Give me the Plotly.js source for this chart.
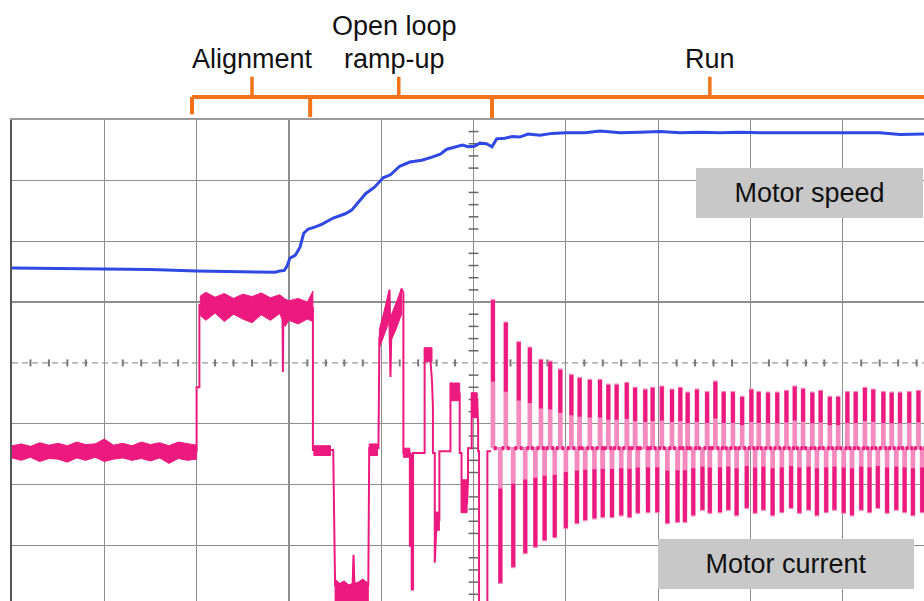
<!DOCTYPE html>
<html><head><meta charset="utf-8">
<script src="https://cdn.plot.ly/plotly-3.0.1.min.js"></script>
<style>html,body{margin:0;padding:0;background:#fff;}#chart{width:924px;height:601px;}</style>
</head><body><div id="chart"></div>
<script>
// Units: oscilloscope divisions (time on x, signal level on y)
// ---- Motor speed ----
const speedT = [0,0.52,1.01,1.50,2.00,2.47,2.85,2.90,2.95,2.98,3.01,3.07,3.12,3.16,3.21,3.28,3.36,3.48,3.61,3.68,3.75,3.83,3.93,4.02,4.10,4.20,4.31,4.44,4.55,4.64,4.71,4.80,4.88,4.94,5.01,5.07,5.14,5.20,5.25,5.34,5.42,5.50,5.59,5.72,5.85,6.00,6.21,6.37,6.59,6.80,7.02,7.24,7.45,7.67,7.89,8.10,8.32,8.54,8.75,9.02,9.19,9.40,9.62,9.88];
const speedY = [1.56,1.55,1.54,1.535,1.51,1.50,1.49,1.51,1.52,1.59,1.72,1.77,1.90,2.13,2.20,2.23,2.28,2.38,2.45,2.51,2.63,2.78,2.89,3.04,3.09,3.23,3.30,3.33,3.38,3.43,3.51,3.55,3.58,3.55,3.56,3.61,3.60,3.55,3.68,3.69,3.72,3.71,3.76,3.74,3.77,3.78,3.78,3.81,3.78,3.79,3.80,3.78,3.79,3.78,3.79,3.78,3.78,3.77,3.78,3.78,3.77,3.78,3.75,3.76];

// ---- Motor current: alignment / ramp-up trace ----
const currT = [0,2.00,2.00,2.03,2.03,2.93,2.935,2.94,3.26,3.26,3.48,3.49,3.50,3.69,3.70,3.71,3.86,3.87,3.97,3.98,4.09,4.09,4.10,4.11,4.22,4.24,4.24,4.31,4.31,4.315,4.33,4.33,4.345,4.345,4.47,4.47,4.50,4.53,4.55,4.56,4.56,4.58,4.58,4.60,4.62,4.63,4.63,4.75,4.75,4.80,4.85,4.85,4.87,4.87,4.93,4.94,4.94,4.98,4.98,5.04,5.05,5.05,5.06,5.06,5.15,5.15,5.19];
const currY = [-1.45,-1.45,-0.40,-0.40,0.95,0.95,-0.15,0.90,0.90,-1.43,-1.43,-3.00,-3.65,-3.65,-3.15,-3.65,-3.65,-1.40,-1.40,0.40,1.20,0.60,-0.23,0.55,1.22,1.15,-1.48,-1.48,-3.02,-1.50,-1.50,-3.72,-3.72,-1.48,-1.48,0.25,0.20,0.12,-0.30,-0.72,-1.48,-1.48,-3.28,-2.60,-2.45,-2.60,-1.45,-1.45,-0.33,-0.40,-0.50,-1.48,-1.48,-2.46,-2.30,-1.92,-1.40,-1.40,-0.49,-0.60,-1.05,-1.45,-1.45,-3.95,-3.95,-1.45,-1.45];

// dense (PWM-filled) bands: time, upper edge, lower edge
const band1T = [0,0.1,0.2,0.3,0.4,0.5,0.6,0.7,0.8,0.9,1.0,1.1,1.2,1.3,1.4,1.5,1.6,1.7,1.8,1.9,2.0];
const band1Hi = [-1.36,-1.33,-1.37,-1.31,-1.35,-1.32,-1.36,-1.30,-1.34,-1.33,-1.25,-1.35,-1.32,-1.36,-1.30,-1.34,-1.31,-1.36,-1.30,-1.33,-1.35];
const band1Lo = [-1.56,-1.60,-1.55,-1.62,-1.57,-1.58,-1.63,-1.56,-1.60,-1.55,-1.62,-1.58,-1.56,-1.60,-1.57,-1.61,-1.56,-1.65,-1.57,-1.60,-1.58];
const band2T = [2.04,2.1,2.2,2.3,2.4,2.5,2.6,2.7,2.8,2.9,2.96,3.0,3.1,3.2,3.26];
const band2Hi = [1.10,1.16,1.08,1.14,1.06,1.13,1.09,1.15,1.07,1.12,1.05,1.02,1.06,1.00,1.18];
const band2Lo = [0.78,0.70,0.82,0.68,0.80,0.72,0.66,0.79,0.70,0.81,0.60,0.70,0.64,0.72,0.68];
const band3T = [3.50,3.55,3.60,3.65,3.69,3.70,3.71,3.75,3.80,3.86];
const band3Hi = [-3.55,-3.62,-3.58,-3.65,-3.62,-3.20,-3.62,-3.60,-3.55,-3.62];
const band3Lo = [-4.0,-4.0,-4.0,-4.0,-4.0,-4.0,-4.0,-4.0,-4.0,-4.0];
const band4T = [3.98,4.03,4.09,4.10,4.16,4.22];
const band4Hi = [0.55,0.85,1.20,0.75,1.00,1.22];
const band4Lo = [0.25,0.45,0.70,0.35,0.55,0.80];
// dense blocks: start, end, low, high
const blockT0 = [3.27,3.87,4.24,4.47,4.58,4.75,4.87,4.98];
const blockT1 = [3.45,3.96,4.31,4.55,4.63,4.85,4.93,5.04];
const blockLo = [-1.52,-1.52,-1.55,0.02,-2.75,-0.62,-2.46,-0.90];
const blockHi = [-1.36,-1.33,-1.40,0.25,-2.45,-0.33,-1.92,-0.49];

// ---- Motor current: run phase (commutation pulses) ----
const runTopT = [5.21,5.35,5.49,5.61,5.73,5.83,5.94,6.06,6.15,6.26,6.37,6.46,6.55,6.66,6.75,6.86,6.94,7.04,7.15,7.24,7.32,7.42,7.53,7.62,7.71,7.81,7.91,8.01,8.09,8.19,8.29,8.39,8.48,8.57,8.67,8.76,8.86,8.95,9.05,9.14,9.24,9.33,9.44,9.53,9.62,9.72,9.82];
const runTop = [1.03,0.66,0.34,0.25,0.05,0.02,-0.11,-0.20,-0.25,-0.28,-0.28,-0.36,-0.36,-0.33,-0.41,-0.44,-0.41,-0.39,-0.44,-0.41,-0.49,-0.44,-0.48,-0.31,-0.48,-0.48,-0.56,-0.44,-0.48,-0.49,-0.49,-0.46,-0.39,-0.43,-0.49,-0.46,-0.56,-0.56,-0.48,-0.48,-0.41,-0.44,-0.48,-0.49,-0.49,-0.48,-0.46];
const runBotT = [5.29,5.43,5.56,5.67,5.77,5.88,6.00,6.12,6.21,6.31,6.40,6.50,6.60,6.69,6.78,6.89,6.99,7.10,7.21,7.29,7.38,7.48,7.56,7.67,7.76,7.85,7.96,8.05,8.14,8.24,8.34,8.44,8.53,8.63,8.72,8.82,8.91,9.01,9.10,9.20,9.29,9.38,9.48,9.58,9.67,9.76,9.86];
const runBot = [-3.61,-3.35,-3.12,-3.02,-2.91,-2.86,-2.71,-2.63,-2.58,-2.55,-2.53,-2.53,-2.50,-2.53,-2.46,-2.45,-2.45,-2.63,-2.61,-2.61,-2.50,-2.41,-2.46,-2.45,-2.41,-2.50,-2.38,-2.46,-2.41,-2.50,-2.45,-2.38,-2.46,-2.41,-2.50,-2.45,-2.41,-2.46,-2.50,-2.41,-2.45,-2.38,-2.46,-2.41,-2.45,-2.50,-2.45];
const runMid = -1.40;

// ---- Phases ----
const phaseStart = [1.95, 3.23, 5.20];
const phaseEnd = [3.23, 5.20, 9.95];
const phaseMid = [2.60, 4.19, 7.56];
const phaseLabels = [["Alignment"], ["Open loop", "ramp-up"], ["Run"]];
const boxLabels = ["Motor speed", "Motor current"];

// ---------- build ----------
const PINK = '#ec1a7f', LIGHTPINK = '#f48abd', BLUE = '#2f48e4', ORANGE = '#f2731a', GRID = '#8e8e8e';
const XMAX = 9.88, YMIN = -3.91, YMAX = 3.99;
const FONT = 'Liberation Sans, Arial, sans-serif';

function bandPoly(t, hi, lo) {
  return {x: t.concat(t.slice().reverse()), y: hi.concat(lo.slice().reverse())};
}
const bx = [], by = [];
[[band1T,band1Hi,band1Lo],[band2T,band2Hi,band2Lo],[band3T,band3Hi,band3Lo],[band4T,band4Hi,band4Lo]].forEach(b => {
  const p = bandPoly(b[0], b[1], b[2]);
  bx.push(...p.x, p.x[0], null); by.push(...p.y, p.y[0], null);
});
for (let i = 0; i < blockT0.length; i++) {
  bx.push(blockT0[i], blockT1[i], blockT1[i], blockT0[i], blockT0[i], null);
  by.push(blockLo[i], blockLo[i], blockHi[i], blockHi[i], blockLo[i], null);
}
// run phase: light full waveform + dark extremity bars + dark mid steps
const w = 0.012, topDark = 0.55, botDark = 0.7, midStep = 0.03;
const rx = [], ry = [], dx = [], dy = [];
for (let i = 0; i < runTopT.length; i++) {
  const T = runTopT[i], B = runBotT[i];
  rx.push(T - w, T - w, T + w, T + w, B - w, B - w, B + w, B + w);
  ry.push(runMid, runTop[i], runTop[i], runMid, runMid, runBot[i], runBot[i], runMid);
  dx.push(T, T, null, B, B, null, T + w, T + w + midStep, null, B + w, B + w + midStep, null);
  dy.push(runTop[i], runTop[i] + topDark * (runMid - runTop[i]), null,
          runBot[i], runBot[i] + botDark * (runMid - runBot[i]), null,
          runMid, runMid, null, runMid, runMid, null);
}
// scope graticule decorations
const tickY = [], tickXs = [], dotX = [], dotY = [];
for (let k = -19; k <= 19; k++) { if (k % 5 !== 0) { tickY.push(k / 5); tickXs.push(5); } }
for (let k = 1; k < 50; k++) { if (k % 5 !== 0) { dotX.push(k / 5); dotY.push(0); } }

const traces = [
  {x: [0, XMAX], y: [0, 0], mode: 'lines', line: {color: '#9a9a9a', width: 1.2, dash: '6px,4px'}, hoverinfo: 'skip'},
  {x: dotX, y: dotY, mode: 'markers', marker: {symbol: 'line-ns', size: 5, line: {color: '#777', width: 2}}, hoverinfo: 'skip'},
  {x: tickXs, y: tickY, mode: 'markers', marker: {symbol: 'line-ew', size: 7, line: {color: '#666', width: 1.5}}, hoverinfo: 'skip'},
  {x: rx, y: ry, mode: 'lines', line: {color: LIGHTPINK, width: 2.5}, hoverinfo: 'skip'},
  {x: dx, y: dy, mode: 'lines', line: {color: PINK, width: 4}, hoverinfo: 'skip'},
  {x: bx, y: by, mode: 'lines', fill: 'toself', fillcolor: PINK, line: {color: PINK, width: 1}, hoverinfo: 'skip'},
  {x: currT, y: currY, mode: 'lines', line: {color: PINK, width: 2}},
  {x: speedT, y: speedY, mode: 'lines', line: {color: BLUE, width: 3}}
];

const shapes = [];
const annotations = [];
const yLine = 1.048, yTick = 1.09, yDrop = [1.012, 1.006, 1.004];
for (let i = 0; i < phaseStart.length; i++) {
  const ln = (x0, y0, x1, y1, wd) => shapes.push({type: 'line', xref: 'x', yref: 'paper', x0, y0, x1, y1, line: {color: ORANGE, width: wd || 4}});
  ln(phaseStart[i], yLine, phaseEnd[i], yLine);
  ln(phaseStart[i], yLine, phaseStart[i], yDrop[i]);
  ln(phaseMid[i], yLine, phaseMid[i], yTick, 3.5);
  const lines = phaseLabels[i];
  lines.forEach((txt, j) => {
    const y = lines.length === 1 ? 1.127 : (j === 0 ? 1.195 : 1.127);
    annotations.push({text: txt, xref: 'x', yref: 'paper', x: phaseMid[i] - (lines.length > 1 ? 0.05 : 0), y, showarrow: false,
      font: {family: FONT, size: 27, color: '#111'}, xanchor: 'center', yanchor: 'middle'});
  });
}
const boxX = [8.64, 8.39], boxY = [0.848, 0.076], boxW = [227, 256];
boxLabels.forEach((txt, i) => {
  annotations.push({text: txt, xref: 'x', yref: 'paper', x: boxX[i], y: boxY[i], showarrow: false,
    xanchor: 'center', yanchor: 'middle',
    width: boxW[i], height: 50, bgcolor: '#c8c8c8', borderpad: 0, borderwidth: 0,
    font: {family: FONT, size: 27, color: '#111'}});
});

const layout = {
  width: 924, height: 601, showlegend: false,
  margin: {l: 12, r: 0, t: 120, b: 0, pad: 0},
  paper_bgcolor: '#ffffff', plot_bgcolor: '#ffffff',
  xaxis: {range: [0, XMAX], tickvals: [1,2,3,4,5,6,7,8,9], showticklabels: false, ticks: '', showgrid: true, gridcolor: GRID, gridwidth: 1.3,
    zeroline: false, showline: true, side: 'top', linecolor: '#9a9a9a', linewidth: 2, fixedrange: true},
  yaxis: {range: [YMIN, YMAX], tickvals: [-3,-2,-1,1,2,3], showticklabels: false, ticks: '', showgrid: true, gridcolor: GRID, gridwidth: 1.3,
    zeroline: false, showline: true, linecolor: '#555', linewidth: 2, fixedrange: true},
  shapes, annotations
};
Plotly.newPlot('chart', traces, layout, {staticPlot: true, displayModeBar: false});
</script>
</body></html>
